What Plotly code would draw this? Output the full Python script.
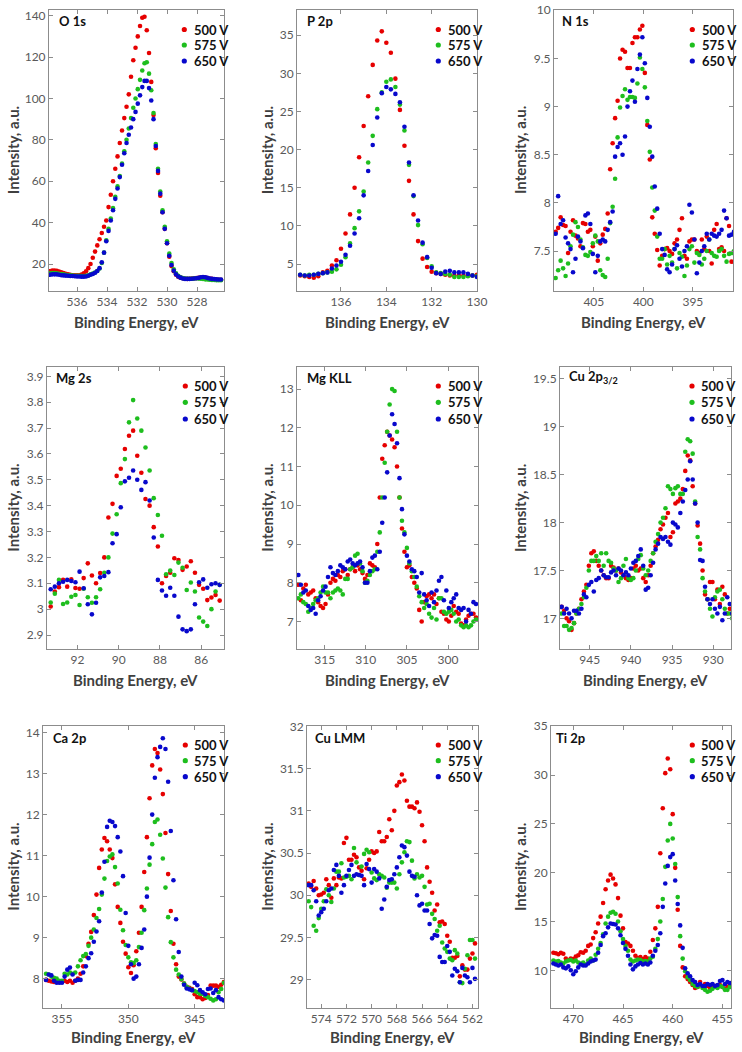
import plotly.graph_objects as go

W, H = 742, 1052

SERIES_NAMES = ["500 V", "575 V", "650 V"]
SERIES_COLORS = ["#E60000", "#1EBE1E", "#0808CC"]

# ---------------- O 1s ----------------
O1S_BE = [537.8, 537.65, 537.5, 537.35, 537.2, 537.05, 536.9, 536.75, 536.6, 536.45,
          536.3, 536.15, 536.0, 535.85, 535.7, 535.55, 535.4, 535.25, 535.1, 534.95,
          534.8, 534.65, 534.5, 534.35, 534.2, 534.05, 533.9, 533.75, 533.6, 533.45,
          533.3, 533.15, 533.0, 532.85, 532.7, 532.55, 532.4, 532.25, 532.1, 531.95,
          531.8, 531.65, 531.5, 531.35, 531.2, 531.05, 530.9, 530.75, 530.6, 530.45,
          530.3, 530.15, 530.0, 529.85, 529.7, 529.55, 529.4, 529.25, 529.1, 528.95,
          528.8, 528.65, 528.5, 528.35, 528.2, 528.05, 527.9, 527.75, 527.6, 527.45,
          527.3, 527.15, 527.0, 526.85, 526.7, 526.55, 526.4]
O1S_500 = [16.5, 16.8, 16.9, 16.7, 16.4, 16.0, 15.6, 15.3, 15.0, 14.8,
           14.6, 14.5, 14.5, 14.6, 14.9, 15.5, 16.5, 18.0, 20.0, 23.0,
           26.0, 29.0, 32.0, 35.0, 38.0, 41.0, 47.5, 53.5, 60.0, 66.0,
           72.0, 78.5, 84.5, 90.5, 96.0, 102.0, 110.5, 118.5, 124.5, 130.0,
           135.0, 139.0, 139.5, 133.0, 122.0, 108.0, 92.0, 76.0, 64.0, 53.0,
           45.0, 37.0, 30.0, 23.5, 19.0, 16.5, 14.8, 13.9, 13.4, 13.1,
           12.9, 12.8, 12.9, 13.0, 13.1, 13.2, 13.3, 13.4, 13.5, 13.4,
           13.2, 13.0, 12.8, 12.6, 12.5, 12.4, 12.4]
O1S_575 = [15.5, 15.6, 15.6, 15.5, 15.3, 15.1, 15.0, 14.8, 14.6, 14.5,
           14.4, 14.3, 14.3, 14.3, 14.2, 14.2, 14.3, 14.5, 15.0, 15.4,
           15.9, 16.6, 17.8, 20.5, 25.5, 31.5, 37.0, 42.0, 47.0, 52.5,
           57.5, 62.5, 68.5, 74.5, 80.0, 85.5, 90.5, 95.5, 100.0, 104.5,
           109.0, 113.5, 117.0, 117.5, 112.0, 104.0, 93.0, 78.0, 66.0, 55.0,
           46.0, 38.0, 31.0, 25.0, 20.5, 17.5, 15.5, 14.3, 13.6, 13.2,
           13.0, 12.9, 12.9, 12.9, 13.0, 13.1, 13.0, 12.9, 12.8, 12.6,
           12.5, 12.4, 12.3, 12.3, 12.2, 12.2, 12.2]
O1S_650 = [14.8, 15.0, 15.0, 15.0, 14.8, 14.6, 14.5, 14.4, 14.3, 14.2,
           14.2, 14.1, 14.0, 14.0, 13.9, 13.9, 14.0, 14.3, 14.8, 15.2,
           15.8, 16.6, 18.0, 20.8, 25.5, 31.0, 36.0, 41.0, 46.0, 51.5,
           56.5, 62.0, 68.0, 73.5, 78.5, 82.5, 86.0, 90.0, 93.5, 97.5,
           101.5, 105.5, 108.5, 108.5, 105.0, 99.0, 90.0, 77.0, 65.0, 54.0,
           45.0, 37.0, 30.0, 24.0, 19.5, 16.8, 15.0, 14.0, 13.4, 13.0,
           12.8, 12.8, 12.8, 12.9, 13.0, 13.1, 13.3, 13.6, 13.7, 13.6,
           13.3, 13.0, 12.8, 12.7, 12.6, 12.5, 12.5]
O1S_XTICKS = [536, 534, 532, 530, 528]
O1S_YTICKS = [20, 40, 60, 80, 100, 120, 140]

# ---------------- P 2p ----------------
P2P_BE = [137.8, 137.6, 137.4, 137.2, 137.0, 136.8, 136.6, 136.4, 136.2, 136.0,
          135.8, 135.6, 135.4, 135.2, 135.0, 134.8, 134.6, 134.4, 134.2, 134.0,
          133.8, 133.6, 133.4, 133.2, 133.0, 132.8, 132.6, 132.4, 132.2, 132.0,
          131.8, 131.6, 131.4, 131.2, 131.0, 130.8, 130.6, 130.4, 130.2, 130.0]
P2P_500 = [3.5, 3.4, 3.3, 3.2, 3.4, 3.9, 4.1, 4.8, 5.5, 7.0,
           9.0, 11.5, 15.0, 19.0, 23.1, 27.0, 31.1, 34.3, 35.5, 34.0,
           32.7, 29.3, 25.2, 20.5, 15.9, 11.5, 8.0, 5.7, 4.6, 4.0,
           3.8, 3.7, 3.6, 3.5, 3.5, 3.5, 3.5, 3.5, 3.5, 3.6]
P2P_575 = [3.6, 3.5, 3.6, 3.6, 3.7, 3.8, 3.9, 4.0, 4.3, 4.9,
           5.9, 7.7, 9.7, 11.9, 14.5, 18.3, 21.8, 25.3, 27.5, 28.9,
           29.2, 28.2, 25.9, 22.5, 18.0, 13.9, 10.1, 7.6, 5.8, 4.7,
           3.9, 3.8, 3.7, 3.6, 3.3, 3.3, 3.3, 3.4, 3.5, 3.4]
P2P_650 = [3.6, 3.5, 3.5, 3.6, 3.7, 3.8, 3.9, 4.4, 4.8, 5.3,
           6.2, 7.4, 9.0, 11.0, 14.0, 17.2, 20.6, 24.2, 27.4, 28.2,
           27.9, 27.3, 26.2, 23.0, 18.3, 14.0, 10.7, 7.8, 5.9, 4.5,
           3.8, 3.7, 4.0, 4.1, 3.9, 3.9, 3.9, 3.7, 3.5, 3.3]
P2P_XTICKS = [136, 134, 132, 130]
P2P_YTICKS = [5, 10, 15, 20, 25, 30, 35]

# ---------------- N 1s ----------------
N1S_BE = [408.85, 408.6, 408.35, 408.1, 407.85, 407.6, 407.35, 407.1, 406.85, 406.6,
          406.35, 406.1, 405.85, 405.6, 405.35, 405.1, 404.85, 404.6, 404.35, 404.1,
          403.85, 403.6, 403.35, 403.1, 402.85, 402.6, 402.35, 402.1, 401.85, 401.6,
          401.35, 401.1, 400.85, 400.6, 400.35, 400.1, 399.85, 399.6, 399.35, 399.1,
          398.85, 398.6, 398.35, 398.1, 397.85, 397.6, 397.35, 397.1, 396.85, 396.6,
          396.35, 396.1, 395.85, 395.6, 395.35, 395.1, 394.85, 394.6, 394.35, 394.1,
          393.85, 393.6, 393.35, 393.1, 392.85, 392.6, 392.35, 392.1, 391.85, 391.6,
          391.35, 391.1, 390.85]
N1S_500 = [7.70, 7.74, 7.85, 7.77, 7.76, 7.48, 7.70, 7.82, 7.66, 7.63,
           7.55, 7.79, 7.78, 7.70, 7.72, 7.55, 7.65, 7.40, 7.58, 7.67,
           7.73, 7.89, 8.35, 8.62, 8.88, 9.06, 9.50, 9.59, 9.57, 9.40,
           9.40, 9.66, 9.72, 9.72, 9.80, 9.84, 9.35, 8.81, 8.45, 7.85,
           7.68, 7.51, 7.35, 7.45, 7.52, 7.53, 7.50, 7.47, 7.58, 7.62,
           7.72, 7.84, 7.45, 7.42, 7.60, 7.62, 7.62, 7.50, 7.48, 7.62,
           7.52, 7.65, 7.50, 7.37, 7.72, 7.78, 7.52, 7.54, 7.50, 7.84,
           7.76, 7.39, 7.39]
N1S_575 = [7.22, 7.30, 7.40, 7.32, 7.24, 7.37, 7.55, 7.67, 7.80, 7.75,
           7.62, 7.54, 7.46, 7.45, 7.49, 7.58, 7.66, 7.60, 7.30, 7.25,
           7.23, 7.42, 7.79, 7.96, 8.25, 8.68, 8.99, 9.11, 9.18, 9.07,
           9.10, 9.10, 9.09, 9.24, 9.51, 9.39, 9.20, 8.85, 8.53, 8.16,
           7.92, 7.65, 7.42, 7.42, 7.52, 7.36, 7.45, 7.38, 7.52, 7.32,
           7.48, 7.44, 7.24, 7.35, 7.52, 7.55, 7.38, 7.48, 7.46, 7.36,
           7.42, 7.50, 7.62, 7.48, 7.45, 7.44, 7.50, 7.52, 7.45, 7.39,
           7.47, 7.48, 7.50]
N1S_650 = [7.68, 8.07, 7.78, 7.82, 7.64, 7.58, 7.52, 7.28, 7.42, 7.65,
           7.60, 7.53, 7.87, 7.89, 7.78, 7.47, 7.28, 7.45, 7.60, 7.62,
           7.60, 7.72, 7.80, 7.91, 8.48, 8.58, 8.62, 8.50, 8.69, 9.00,
           9.16, 9.27, 9.05, 9.39, 9.54, 9.72, 9.45, 9.09, 8.79, 8.48,
           8.17, 7.94, 7.68, 7.52, 7.46, 7.31, 7.28, 7.36, 7.52, 7.56,
           7.42, 7.34, 7.50, 7.55, 7.98, 7.90, 7.62, 7.27, 7.38, 7.50,
           7.55, 7.68, 7.62, 7.68, 7.66, 7.65, 7.68, 7.72, 7.92, 7.84,
           7.66, 7.67, 7.70]
N1S_XTICKS = [405, 400, 395]
N1S_YTICKS = [7.5, 8, 8.5, 9, 9.5, 10]

# ---------------- Mg 2s ----------------
MG2S_BE = [93.3, 93.1, 92.9, 92.7, 92.5, 92.3, 92.1, 91.9, 91.7, 91.5,
           91.3, 91.1, 90.9, 90.7, 90.5, 90.3, 90.1, 89.9, 89.7, 89.5,
           89.3, 89.1, 88.9, 88.7, 88.5, 88.3, 88.1, 87.9, 87.7, 87.5,
           87.3, 87.1, 86.9, 86.7, 86.5, 86.3, 86.1, 85.9, 85.7, 85.5,
           85.3, 85.1]
MG2S_500 = [3.010, 3.068, 3.085, 3.113, 3.087, 3.115, 3.082, 3.079, 3.120, 3.177,
            3.130, 3.100, 3.140, 3.200, 3.354, 3.407, 3.515, 3.543, 3.619, 3.670,
            3.690, 3.593, 3.527, 3.426, 3.400, 3.317, 3.242, 3.100, 3.128, 3.141,
            3.197, 3.190, 3.152, 3.165, 3.185, 3.141, 3.094, 3.079, 3.035, 3.045,
            3.055, 3.033]
MG2S_575 = [3.026, 3.060, 3.113, 3.020, 3.026, 3.048, 3.055, 3.016, 3.079, 3.046,
            3.025, 3.046, 3.077, 3.141, 3.200, 3.292, 3.367, 3.487, 3.580, 3.722,
            3.808, 3.737, 3.690, 3.625, 3.536, 3.429, 3.364, 3.284, 3.135, 3.149,
            3.132, 3.180, 3.160, 3.074, 3.103, 3.068, 2.968, 2.952, 2.935, 3.000,
            3.068, 3.094]
MG2S_650 = [3.077, 3.087, 3.100, 3.106, 3.113, 3.109, 3.104, 3.145, 3.081, 3.019,
            2.980, 3.025, 3.123, 3.128, 3.143, 3.255, 3.290, 3.394, 3.494, 3.508,
            3.536, 3.500, 3.461, 3.491, 3.420, 3.277, 3.113, 3.072, 3.052, 3.083,
            3.052, 2.971, 2.922, 2.915, 2.922, 3.019, 3.104, 3.115, 3.083, 3.096,
            3.100, 3.094]
MG2S_XTICKS = [92, 90, 88, 86]
MG2S_YTICKS = [2.9, 3.0, 3.1, 3.2, 3.3, 3.4, 3.5, 3.6, 3.7, 3.8, 3.9]

# ---------------- Mg KLL ----------------
MGKLL_BE = [318.2, 317.9, 317.6, 317.3, 317.0, 316.7, 316.4, 316.1, 315.8, 315.5,
            315.2, 314.9, 314.6, 314.3, 314.0, 313.7, 313.4, 313.1, 312.8, 312.5,
            312.2, 311.9, 311.6, 311.3, 311.0, 310.7, 310.4, 310.1, 309.8, 309.5,
            309.2, 308.9, 308.6, 308.3, 308.0, 307.7, 307.4, 307.1, 306.8, 306.5,
            306.2, 305.9, 305.6, 305.3, 305.0, 304.7, 304.4, 304.1, 303.8, 303.5,
            303.2, 302.9, 302.6, 302.3, 302.0, 301.7, 301.4, 301.1, 300.8, 300.5,
            300.2, 299.9, 299.6, 299.3, 299.0, 298.7, 298.4, 298.1, 297.8, 297.5,
            297.2, 296.9, 296.6]
MGKLL_500 = [7.95, 7.55, 7.85, 7.95, 7.70, 7.75, 7.80, 7.60, 7.50, 7.40,
             7.35, 7.45, 7.70, 8.00, 8.10, 8.05, 8.20, 8.15, 8.30, 8.35,
             8.20, 8.35, 8.40, 8.30, 8.45, 8.35, 8.25, 8.10, 8.20, 8.50,
             8.45, 8.40, 9.00, 10.20, 11.20, 11.55, 11.90, 11.80, 11.70, 11.50,
             11.00, 10.20, 9.40, 8.80, 8.40, 8.45, 8.15, 8.00, 7.85, 7.30,
             7.00, 7.50, 7.65, 7.70, 7.60, 7.70, 7.45, 7.60, 7.25, 7.20,
             7.05, 7.00, 7.15, 7.40, 7.25, 7.20, 6.95, 6.90, 7.05, 7.15,
             7.20, 7.20, 7.10]
MGKLL_575 = [7.60, 7.70, 7.50, 7.45, 7.25, 7.35, 7.45, 7.55, 7.60, 7.75,
             7.90, 7.75, 7.75, 7.60, 7.75, 7.80, 7.85, 7.80, 7.70, 8.10,
             8.10, 8.35, 8.40, 8.70, 8.75, 8.50, 8.30, 8.00, 8.05, 8.20,
             8.30, 8.35, 8.80, 9.30, 10.20, 11.10, 11.90, 12.60, 13.00, 12.95,
             11.90, 10.20, 9.60, 9.30, 8.90, 8.50, 8.30, 8.15, 7.90, 7.65,
             7.50, 7.35, 7.45, 7.20, 7.10, 7.35, 7.05, 7.60, 7.60, 7.25,
             7.20, 7.25, 7.30, 7.20, 7.00, 7.05, 6.90, 6.85, 6.90, 6.85,
             6.90, 7.00, 7.05]
MGKLL_650 = [8.20, 7.95, 7.75, 7.80, 7.40, 7.30, 7.35, 7.20, 7.55, 7.65,
             7.80, 7.90, 8.15, 8.40, 8.25, 8.20, 8.30, 8.45, 8.40, 8.35,
             8.55, 8.60, 8.50, 8.45, 8.50, 8.55, 8.40, 8.00, 8.00, 8.30,
             8.65, 8.70, 8.35, 8.80, 9.55, 10.20, 10.85, 11.80, 12.35, 12.10,
             11.60, 10.70, 9.90, 9.25, 8.70, 8.55, 8.35, 8.30, 8.15, 7.75,
             8.25, 7.70, 7.55, 7.40, 7.75, 7.50, 7.80, 8.05, 8.15, 7.55,
             7.80, 7.35, 7.50, 7.60, 7.70, 7.35, 7.30, 7.35, 7.00, 7.30,
             7.20, 7.50, 7.45]
MGKLL_XTICKS = [315, 310, 305, 300]
MGKLL_YTICKS = [7, 8, 9, 10, 11, 12, 13]

# ---------------- Cu 2p3/2 ----------------
CU2P_BE = [948.4, 948.1, 947.8, 947.5, 947.2, 946.9, 946.6, 946.3, 946.0, 945.7,
           945.4, 945.1, 944.8, 944.5, 944.2, 943.9, 943.6, 943.3, 943.0, 942.7,
           942.4, 942.1, 941.8, 941.5, 941.2, 940.9, 940.6, 940.3, 940.0, 939.7,
           939.4, 939.1, 938.8, 938.5, 938.2, 937.9, 937.6, 937.3, 937.0, 936.7,
           936.4, 936.1, 935.8, 935.5, 935.2, 934.9, 934.6, 934.3, 934.0, 933.7,
           933.4, 933.1, 932.8, 932.5, 932.2, 931.9, 931.6, 931.3, 931.0, 930.7,
           930.4, 930.1, 929.8, 929.5, 929.2, 928.9, 928.6, 928.3, 928.0, 927.7,
           927.4]
CU2P_500 = [17.12, 17.08, 17.00, 16.97, 16.88, 16.95, 17.05, 17.10, 17.20, 17.28,
            17.35, 17.55, 17.68, 17.70, 17.60, 17.55, 17.50, 17.45, 17.42, 17.42,
            17.55, 17.53, 17.50, 17.52, 17.48, 17.45, 17.42, 17.40, 17.42, 17.52,
            17.55, 17.50, 17.52, 17.42, 17.38, 17.45, 17.55, 17.68, 17.75, 17.82,
            17.93, 17.98, 18.05, 18.10, 17.85, 17.90, 18.20, 18.22, 18.25, 18.35,
            18.54, 18.70, 18.65, 18.38, 18.20, 17.97, 17.78, 17.50, 17.25, 17.20,
            17.38, 17.38, 17.20, 17.30, 17.15, 17.33, 17.25, 17.05, 17.10, 17.15,
            17.20]
CU2P_575 = [17.05, 16.92, 16.92, 16.88, 16.90, 16.95, 17.05, 17.10, 17.15, 17.22,
            17.32, 17.50, 17.60, 17.60, 17.65, 17.60, 17.68, 17.55, 17.68, 17.60,
            17.58, 17.52, 17.50, 17.38, 17.42, 17.55, 17.62, 17.42, 17.40, 17.42,
            17.50, 17.62, 17.66, 17.52, 17.45, 17.50, 17.60, 17.68, 17.80, 17.88,
            18.00, 18.05, 18.15, 18.38, 18.35, 18.30, 18.36, 18.38, 18.30, 18.30,
            18.74, 18.87, 18.85, 18.72, 18.22, 17.85, 17.72, 17.42, 17.28, 17.20,
            17.10, 17.02, 17.22, 17.28, 17.30, 17.20, 17.10, 17.05, 17.05, 17.00,
            17.08]
CU2P_650 = [17.12, 17.05, 17.10, 17.05, 17.00, 17.08, 17.08, 17.05, 17.10, 17.25,
            17.22, 17.35, 17.38, 17.28, 17.40, 17.42, 17.50, 17.45, 17.43, 17.43,
            17.48, 17.50, 17.45, 17.52, 17.50, 17.45, 17.48, 17.45, 17.52, 17.58,
            17.60, 17.65, 17.72, 17.55, 17.30, 17.32, 17.45, 17.58, 17.72, 17.78,
            17.85, 17.83, 17.85, 17.80, 17.77, 18.00, 17.98, 17.95, 18.10, 18.22,
            18.34, 18.45, 18.64, 18.45, 18.20, 18.00, 17.61, 17.60, 17.33, 17.20,
            17.15, 17.20, 17.10, 17.05, 17.12, 16.98, 17.05, 17.22, 17.15, 17.05,
            17.10]
CU2P_XTICKS = [945, 940, 935, 930]
CU2P_YTICKS = [17, 17.5, 18, 18.5, 19, 19.5]

# ---------------- Ca 2p ----------------
CA2P_BE = [356.2, 356.0, 355.8, 355.6, 355.4, 355.2, 355.0, 354.8, 354.6, 354.4,
           354.2, 354.0, 353.8, 353.6, 353.4, 353.2, 353.0, 352.8, 352.6, 352.4,
           352.2, 352.0, 351.8, 351.6, 351.4, 351.2, 351.0, 350.8, 350.6, 350.4,
           350.2, 350.0, 349.8, 349.6, 349.4, 349.2, 349.0, 348.8, 348.6, 348.4,
           348.2, 348.0, 347.8, 347.6, 347.4, 347.2, 347.0, 346.8, 346.6, 346.4,
           346.2, 346.0, 345.8, 345.6, 345.4, 345.2, 345.0, 344.8, 344.6, 344.4,
           344.2, 344.0, 343.8, 343.6, 343.4, 343.2, 343.0, 342.8]
CA2P_500 = [7.97, 7.95, 7.93, 7.92, 7.93, 7.92, 7.93, 7.95, 7.92, 7.95,
            7.90, 7.95, 8.00, 8.12, 8.30, 8.55, 8.85, 9.14, 9.55, 10.05,
            10.70, 11.15, 11.43, 11.35, 11.15, 10.94, 10.30, 9.75, 9.36, 8.90,
            8.61, 8.28, 8.14, 8.33, 8.67, 9.12, 9.75, 10.60, 11.45, 12.40,
            13.20, 13.60, 13.50, 13.10, 12.50, 11.55, 10.55, 9.65, 8.85, 8.35,
            8.05, 7.98, 7.88, 7.80, 7.78, 7.75, 7.62, 7.55, 7.55, 7.50,
            7.53, 7.60, 7.83, 7.83, 7.83, 7.80, 7.85, 7.92]
CA2P_575 = [8.12, 8.10, 8.05, 8.02, 8.00, 7.95, 7.95, 8.12, 8.10, 8.15,
            8.12, 8.15, 8.30, 8.45, 8.55, 8.60, 8.80, 9.00, 9.20, 9.48,
            9.70, 10.05, 10.44, 10.87, 10.98, 11.03, 10.72, 10.32, 9.68, 9.18,
            8.82, 8.52, 8.40, 8.38, 8.45, 8.77, 9.12, 9.67, 10.20, 10.78,
            11.28, 11.82, 11.88, 11.51, 10.93, 10.22, 9.50, 8.89, 8.52, 8.22,
            8.10, 7.99, 7.88, 7.80, 7.76, 7.72, 7.70, 7.67, 7.63, 7.63,
            7.58, 7.55, 7.51, 7.47, 7.50, 7.67, 7.75, 7.90]
CA2P_650 = [7.97, 8.10, 8.08, 7.95, 7.90, 7.90, 7.90, 8.05, 8.22, 8.27,
            8.10, 7.95, 7.97, 7.97, 8.15, 8.30, 8.50, 8.62, 8.90, 9.15,
            9.40, 10.10, 10.85, 11.70, 11.85, 11.82, 11.72, 11.45, 11.10, 10.50,
            9.60, 8.80, 8.35, 8.00, 8.05, 8.35, 8.75, 9.20, 10.00, 10.95,
            12.00, 12.90, 13.40, 13.65, 13.86, 13.60, 12.80, 11.60, 10.40, 9.45,
            8.65, 8.05, 7.85, 7.76, 7.74, 7.72, 7.90, 7.84, 7.72, 7.67,
            7.62, 7.75, 7.76, 7.65, 7.72, 7.55, 7.50, 7.47]
CA2P_XTICKS = [355, 350, 345]
CA2P_YTICKS = [8, 9, 10, 11, 12, 13, 14]

# ---------------- Cu LMM ----------------
CULMM_BE = [575.0, 574.8, 574.6, 574.4, 574.2, 574.0, 573.8, 573.6, 573.4, 573.2,
            573.0, 572.8, 572.6, 572.4, 572.2, 572.0, 571.8, 571.6, 571.4, 571.2,
            571.0, 570.8, 570.6, 570.4, 570.2, 570.0, 569.8, 569.6, 569.4, 569.2,
            569.0, 568.8, 568.6, 568.4, 568.2, 568.0, 567.8, 567.6, 567.4, 567.2,
            567.0, 566.8, 566.6, 566.4, 566.2, 566.0, 565.8, 565.6, 565.4, 565.2,
            565.0, 564.8, 564.6, 564.4, 564.2, 564.0, 563.8, 563.6, 563.4, 563.2,
            563.0, 562.8, 562.6, 562.4, 562.2, 562.0, 561.8]
CULMM_500 = [30.14, 30.10, 30.17, 30.08, 30.00, 30.01, 30.03, 30.19, 30.12, 29.97,
             30.20, 30.12, 30.21, 30.20, 30.62, 30.68, 30.42, 30.42, 30.48, 30.45,
             30.33, 30.29, 30.19, 30.32, 30.42, 30.52, 30.50, 30.52, 30.75, 30.64,
             30.64, 30.69, 30.90, 30.77, 31.00, 31.30, 31.34, 31.43, 31.36, 31.12,
             31.05, 31.05, 31.03, 31.10, 30.99, 30.83, 30.64, 30.33, 30.16, 30.03,
             29.82, 29.89, 29.68, 29.69, 29.66, 29.52, 29.45, 29.26, 29.26, 29.28,
             29.04, 29.17, 29.12, 29.12, 29.25, 29.31, 29.43]
CULMM_575 = [29.93, 29.86, 29.64, 29.58, 29.73, 29.84, 29.93, 30.07, 30.00, 29.92,
             30.08, 30.28, 30.28, 30.38, 30.21, 30.22, 30.23, 30.19, 30.56, 30.39,
             30.24, 30.34, 30.49, 30.54, 30.51, 30.27, 30.20, 30.18, 30.25, 30.23,
             30.21, 30.09, 30.15, 30.15, 30.15, 30.08, 30.25, 30.39, 30.51, 30.64,
             30.63, 30.41, 30.20, 30.25, 30.21, 30.23, 30.10, 29.89, 29.90, 29.78,
             29.72, 29.58, 29.64, 29.44, 29.37, 29.33, 29.25, 29.23, 29.35, 29.31,
             28.97, 28.96, 29.13, 29.29, 29.47, 29.47, 29.25]
CULMM_650 = [30.12, 30.12, 30.06, 29.93, 29.76, 29.80, 29.84, 29.93, 30.06, 30.08,
             30.30, 30.36, 30.23, 30.03, 30.12, 30.23, 30.30, 30.36, 30.23, 30.25,
             30.24, 30.23, 30.12, 30.37, 30.31, 30.15, 30.31, 30.28, 30.20, 29.84,
             29.95, 30.10, 30.18, 30.19, 30.25, 30.33, 30.45, 30.59, 30.57, 30.47,
             30.28, 30.23, 30.22, 30.00, 29.88, 29.90, 29.82, 29.82, 29.66, 29.49,
             29.53, 29.52, 29.27, 29.21, 29.21, 29.40, 29.33, 29.05, 29.13, 29.10,
             28.97, 29.14, 29.05, 29.03, 28.97, 29.14, 29.01]
CULMM_XTICKS = [574, 572, 570, 568, 566, 564, 562]
CULMM_YTICKS = [29, 29.5, 30, 30.5, 31, 31.5, 32]

# ---------------- Ti 2p ----------------
TI2P_BE = [472.0, 471.75, 471.5, 471.25, 471.0, 470.75, 470.5, 470.25, 470.0, 469.75,
           469.5, 469.25, 469.0, 468.75, 468.5, 468.25, 468.0, 467.75, 467.5, 467.25,
           467.0, 466.75, 466.5, 466.25, 466.0, 465.75, 465.5, 465.25, 465.0, 464.75,
           464.5, 464.25, 464.0, 463.75, 463.5, 463.25, 463.0, 462.75, 462.5, 462.25,
           462.0, 461.75, 461.5, 461.25, 461.0, 460.75, 460.5, 460.25, 460.0, 459.75,
           459.5, 459.25, 459.0, 458.75, 458.5, 458.25, 458.0, 457.75, 457.5, 457.25,
           457.0, 456.75, 456.5, 456.25, 456.0, 455.75, 455.5, 455.25, 455.0, 454.75,
           454.5, 454.25]
TI2P_500 = [11.80, 11.75, 11.65, 11.80, 11.70, 11.20, 11.05, 11.20, 11.15, 11.40,
            11.55, 11.85, 11.80, 12.00, 12.50, 12.65, 13.30, 13.90, 14.80, 15.50,
            16.90, 18.30, 19.20, 19.80, 19.40, 18.80, 17.40, 15.60, 14.30, 12.90,
            12.75, 12.50, 12.00, 11.50, 11.25, 11.35, 11.15, 11.35, 11.20, 11.90,
            13.10, 14.30, 16.50, 22.00, 26.60, 30.20, 31.70, 30.60, 26.00, 20.50,
            16.20, 12.50, 10.30, 9.40, 9.10, 8.80, 8.50, 8.20, 8.30, 8.80,
            8.40, 8.60, 8.40, 8.20, 8.50, 8.40, 8.30, 8.50, 8.30, 8.10,
            8.30, 8.50]
TI2P_575 = [11.00, 10.90, 10.95, 10.80, 10.70, 10.90, 11.00, 11.05, 10.90, 11.00,
            10.80, 10.70, 10.80, 10.60, 11.00, 11.20, 11.00, 11.60, 12.20, 12.80,
            13.70, 14.80, 15.50, 15.90, 16.00, 15.80, 15.00, 14.00, 13.20, 12.50,
            12.00, 11.10, 10.90, 11.00, 11.10, 11.05, 10.90, 10.95, 10.90, 11.20,
            11.40, 12.20, 13.20, 15.00, 17.30, 20.60, 23.30, 25.00, 23.50, 20.90,
            17.50, 13.50, 11.20, 9.90, 9.30, 9.00, 8.60, 8.40, 8.30, 8.50,
            8.20, 8.00, 7.80, 7.90, 8.10, 8.30, 8.20, 8.40, 8.30, 8.00,
            8.00, 8.30]
TI2P_650 = [10.70, 10.60, 10.50, 10.60, 10.30, 10.20, 10.40, 10.00, 9.60, 9.90,
            10.30, 10.60, 10.50, 10.50, 10.70, 10.90, 11.00, 11.10, 11.80, 12.60,
            13.50, 13.80, 14.40, 14.80, 14.75, 14.70, 14.30, 13.60, 12.80, 12.20,
            11.50, 10.60, 10.10, 10.40, 10.60, 10.75, 10.60, 10.70, 10.60, 10.80,
            11.50, 12.00, 12.60, 13.80, 16.50, 18.90, 20.70, 21.60, 21.90, 19.20,
            16.80, 14.60, 12.30, 10.20, 9.70, 9.40, 9.00, 8.80, 8.50, 8.60,
            8.40, 8.40, 8.60, 8.50, 8.60, 8.40, 8.50, 8.90, 9.00, 8.60,
            8.80, 8.70]
TI2P_XTICKS = [470, 465, 460, 455]
TI2P_YTICKS = [10, 15, 20, 25, 30, 35]

PANEL_TITLES = ["O 1s", "P 2p", "N 1s", "Mg 2s", "Mg KLL", "Cu 2p<sub>3/2</sub>",
                "Ca 2p", "Cu LMM", "Ti 2p"]
X_TITLE = "Binding Energy, eV"
Y_TITLE = "Intensity, a.u."

# ---------- layout (pixel geometry) ----------
PANELS = [
    dict(be=O1S_BE, ys=[O1S_500, O1S_575, O1S_650], xt=O1S_XTICKS, yt=O1S_YTICKS,
         xr=[537.87, 526.2], yr=[6.96, 142.75], box=(49, 224, 10, 291),
         lab=(57, 21), leg=(184.3, 192, [29.5, 45, 61]), ytx=12.7, xty=322),
    dict(be=P2P_BE, ys=[P2P_500, P2P_575, P2P_650], xt=P2P_XTICKS, yt=P2P_YTICKS,
         xr=[137.94, 130.0], yr=[1.46, 38.3], box=(297, 477, 10, 291),
         lab=(305, 21), leg=(438.3, 446, [29.5, 45, 61]), ytx=266.7, xty=322),
    dict(be=N1S_BE, ys=[N1S_500, N1S_575, N1S_650], xt=N1S_XTICKS, yt=N1S_YTICKS,
         xr=[409.02, 390.95], yr=[7.085, 10.003], box=(554, 733, 10, 291),
         lab=(560, 21), leg=(692.3, 699.5, [29.5, 45, 61]), ytx=519.5, xty=322),
    dict(be=MG2S_BE, ys=[MG2S_500, MG2S_575, MG2S_650], xt=MG2S_XTICKS, yt=MG2S_YTICKS,
         xr=[93.48, 84.89], yr=[2.846, 3.936], box=(47, 224, 367, 649),
         lab=(54, 378), leg=(185.3, 192.3, [386, 402.3, 419]), ytx=12.7, xty=680),
    dict(be=MGKLL_BE, ys=[MGKLL_500, MGKLL_575, MGKLL_650], xt=MGKLL_XTICKS, yt=MGKLL_YTICKS,
         xr=[318.37, 296.35], yr=[6.29, 13.57], box=(297, 478, 367, 649),
         lab=(305, 378), leg=(438.3, 446, [386, 402.3, 419]), ytx=266.7, xty=680),
    dict(be=CU2P_BE, ys=[CU2P_500, CU2P_575, CU2P_650], xt=CU2P_XTICKS, yt=CU2P_YTICKS,
         xr=[948.6, 927.85], yr=[16.68, 19.625], box=(560, 731, 367, 649),
         lab=(567, 377), leg=(692, 699.3, [386, 402.3, 419]), ytx=520, xty=680),
    dict(be=CA2P_BE, ys=[CA2P_500, CA2P_575, CA2P_650], xt=CA2P_XTICKS, yt=CA2P_YTICKS,
         xr=[356.43, 342.79], yr=[7.285, 14.16], box=(43, 224, 726, 1008),
         lab=(51, 738), leg=(185.3, 192.3, [745, 760.7, 776.7]), ytx=12.7, xty=1036.5),
    dict(be=CULMM_BE, ys=[CULMM_500, CULMM_575, CULMM_650], xt=CULMM_XTICKS, yt=CULMM_YTICKS,
         xr=[575.13, 561.56], yr=[28.665, 32.005], box=(307, 478, 726, 1008),
         lab=(313, 738), leg=(438.3, 446, [745, 760.7, 776.7]), ytx=266.7, xty=1036.5),
    dict(be=TI2P_BE, ys=[TI2P_500, TI2P_575, TI2P_650], xt=TI2P_XTICKS, yt=TI2P_YTICKS,
         xr=[472.24, 454.14], yr=[6.14, 35.03], box=(551, 731, 726, 1008),
         lab=(554, 738), leg=(692.3, 699.3, [745, 760.7, 776.7]), ytx=520, xty=1036.5),
]

FONT = "Lato, 'Open Sans', Arial, sans-serif"
AXIS_COLOR = "#8C8C8C"
TICK_FONT = dict(family=FONT, size=12, color="#595959")
TITLE_FONT = dict(family=FONT, size=15, color="#404040")
LABEL_FONT = dict(family=FONT, size=13, color="#111111")


def fx(p):
    return p / W


def fy(p):
    return 1 - p / H


def fmt(v):
    return ("%g" % v)


fig = go.Figure()
layout = dict(width=W, height=H, margin=dict(l=0, r=0, t=0, b=0),
              paper_bgcolor="white", plot_bgcolor="white", showlegend=False)
annotations = []
shapes = []

for i, p in enumerate(PANELS):
    k = i + 1
    xa = "x" if k == 1 else f"x{k}"
    ya = "y" if k == 1 else f"y{k}"
    for s in range(3):
        fig.add_trace(go.Scatter(
            x=p["be"], y=p["ys"][s], mode="markers", name=SERIES_NAMES[s],
            marker=dict(size=4.6, color=SERIES_COLORS[s], line=dict(width=0)),
            xaxis=xa, yaxis=ya, showlegend=False))
    l, r, t, b = p["box"]
    common = dict(showline=True, linecolor=AXIS_COLOR, linewidth=1, mirror="ticks",
                  ticks="inside", ticklen=4, tickcolor=AXIS_COLOR, tickwidth=1,
                  showgrid=False, zeroline=False, tickfont=TICK_FONT,
                  automargin=False, tickmode="array")
    layout["xaxis" if k == 1 else f"xaxis{k}"] = dict(
        common, domain=[fx(l), fx(r)], range=p["xr"], anchor=ya,
        tickvals=p["xt"], ticktext=[fmt(v) for v in p["xt"]])
    layout["yaxis" if k == 1 else f"yaxis{k}"] = dict(
        common, domain=[fy(b), fy(t)], range=p["yr"], anchor=xa,
        tickvals=p["yt"], ticktext=[fmt(v) for v in p["yt"]])

    # axis titles
    annotations.append(dict(x=fx((l + r) / 2), y=fy(p["xty"]), xref="paper", yref="paper",
                            text=f"<b>{X_TITLE}</b>", showarrow=False, font=TITLE_FONT,
                            xanchor="center", yanchor="middle"))
    annotations.append(dict(x=fx(p["ytx"]), y=fy((t + b) / 2), xref="paper", yref="paper",
                            text=f"<b>{Y_TITLE}</b>", showarrow=False, font=TITLE_FONT,
                            textangle=-90, xanchor="center", yanchor="middle"))
    # panel label
    annotations.append(dict(x=fx(p["lab"][0]), y=fy(p["lab"][1]), xref="paper", yref="paper",
                            text=f"<b>{PANEL_TITLES[i]}</b>", showarrow=False, font=LABEL_FONT,
                            xanchor="left", yanchor="middle"))
    # legend
    dx, tx, rows = p["leg"]
    for s in range(3):
        cy = rows[s]
        rad = 2.6
        shapes.append(dict(type="circle", xref="paper", yref="paper",
                           x0=fx(dx - rad), x1=fx(dx + rad), y0=fy(cy + rad), y1=fy(cy - rad),
                           fillcolor=SERIES_COLORS[s], line=dict(width=0)))
        annotations.append(dict(x=fx(tx), y=fy(cy), xref="paper", yref="paper",
                                text=f"<b>{SERIES_NAMES[s]}</b>", showarrow=False,
                                font=LABEL_FONT, xanchor="left", yanchor="middle"))

layout["annotations"] = annotations
layout["shapes"] = shapes
fig.update_layout(**layout)
fig.write_html(
    "out.html",
    config={"displayModeBar": False},
    post_script="document.body.style.margin='0';document.body.style.padding='0';"
                "document.body.style.overflow='hidden';"
                "document.documentElement.style.overflow='hidden';")
